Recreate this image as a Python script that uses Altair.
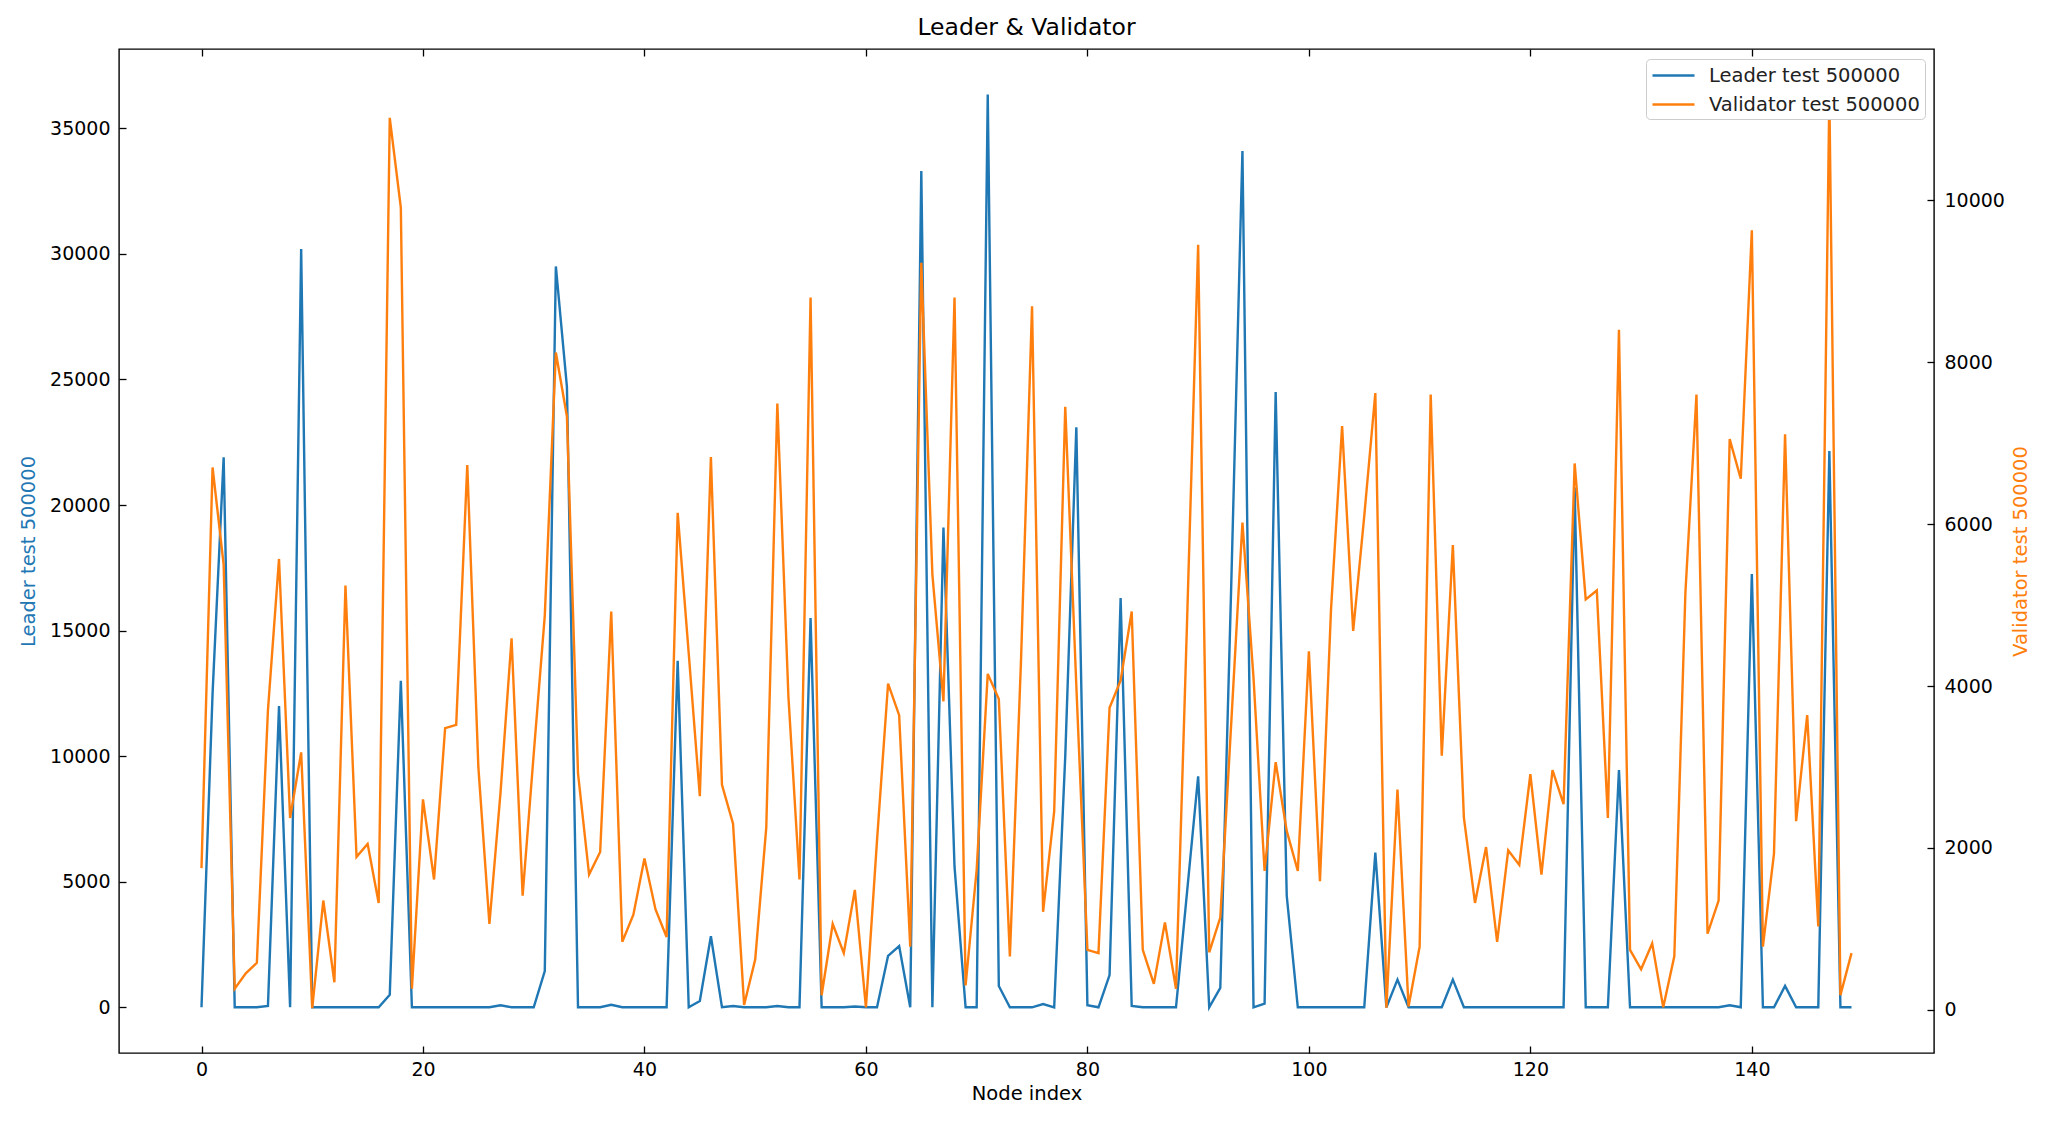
import altair as alt
import pandas as pd

node_index = list(range(150))

leader = [
    0, 12500, 21900, 0, 0, 0, 50, 12000, 0, 30200,
    0, 0, 0, 0, 0, 0, 0, 500, 13000, 0,
    0, 0, 0, 0, 0, 0, 0, 80, 0, 0,
    0, 1440, 29500, 24700, 0, 0, 0, 100, 0, 0,
    0, 0, 0, 13800, 0, 250, 2830, 0, 50, 0,
    0, 0, 50, 0, 0, 15500, 0, 0, 0, 30,
    0, 0, 2050, 2440, 0, 33300, 0, 19100, 5600, 0,
    0, 36350, 850, 0, 0, 0, 130, 0, 10000, 23100,
    80, 0, 1280, 16300, 50, 0, 0, 0, 0, 4600,
    9200, 0, 770, 17000, 34100, 0, 150, 24500, 4440, 0,
    0, 0, 0, 0, 0, 0, 6160, 0, 1100, 0,
    0, 0, 0, 1100, 0, 0, 0, 0, 0, 0,
    0, 0, 0, 0, 20700, 0, 0, 0, 9450, 0,
    0, 0, 0, 0, 0, 0, 0, 0, 80, 0,
    17250, 0, 0, 850, 0, 0, 0, 22150, 0, 0,
]

validator = [
    1750, 6700, 5500, 260, 450, 580, 3700, 5570, 2370, 3180,
    20, 1350, 340, 5240, 1890, 2050, 1320, 11020, 9910, 260,
    2600, 1610, 3480, 3520, 6730, 3000, 1060, 2680, 4590, 1410,
    3160, 4870, 8120, 7330, 2920, 1670, 1950, 4920, 840, 1175,
    1870, 1240, 900, 6140, 4400, 2640, 6830, 2780, 2300, 60,
    620, 2250, 7490, 3870, 1610, 8800, 180, 1060, 700, 1480,
    30, 2090, 4030, 3640, 780, 9230, 5380, 3810, 8800, 300,
    1730, 4150, 3840, 660, 4300, 8690, 1210, 2450, 7450, 4000,
    740, 700, 3730, 4070, 4920, 740, 320, 1080, 260, 4800,
    9450, 710, 1140, 3570, 6020, 4100, 1715, 3060, 2210, 1715,
    4430, 1590, 4950, 7210, 4680, 6100, 7620, 25, 2720, 40,
    780, 7600, 3140, 5740, 2370, 1320, 2010, 840, 1970, 1790,
    2910, 1670, 2960, 2540, 6750, 5070, 5180, 2370, 8400, 740,
    500, 820, 30, 660, 5150, 7600, 940, 1350, 7050, 6560,
    9630, 780, 1930, 7110, 2330, 3640, 1030, 11300, 180, 700,
]

series_names = ["Leader test 500000", "Validator test 500000"]
series_colors = ["#1f77b4", "#ff7f0e"]
x_ticks = [0, 20, 40, 60, 80, 100, 120, 140]
leader_ticks = [0, 5000, 10000, 15000, 20000, 25000, 30000, 35000]
validator_ticks = [0, 2000, 4000, 6000, 8000, 10000]

df_l = pd.DataFrame({"idx": node_index, "val": leader, "series": series_names[0]})
df_v = pd.DataFrame({"idx": node_index, "val": validator, "series": series_names[1]})

W, H = 1815, 1004
xdom = [-7.45, 156.45]
ldom = [-1820, 38160]
vdom = [-534, 11870]
FONT = "DejaVu Sans"
TICK = 7
LBL = 19
TTL = 19.5

def xs():
    return alt.Scale(domain=xdom, nice=False, zero=False)

color = alt.Color(
    "series:N",
    scale=alt.Scale(domain=series_names, range=series_colors),
    legend=alt.Legend(
        title=None, orient="none", legendX=1527, legendY=10,
        fillColor="white", strokeColor="#cccccc", cornerRadius=4, padding=5,
        labelFontSize=TTL, labelFont=FONT, labelColor="#222222", labelLimit=400,
        symbolType="M-1,0H3.2", symbolSize=400, symbolStrokeWidth=2.5,
        rowPadding=8, labelOffset=35,
    ),
)

layer_a = alt.Chart(df_l).mark_line(strokeWidth=2.4).encode(
    x=alt.X("idx:Q", scale=xs(), axis=alt.Axis(
        orient="bottom", values=x_ticks, format="d", ticks=False, domain=False, grid=False,
        labelPadding=7, labelFontSize=LBL, labelFont=FONT, labelColor="black",
        title="Node index", titleFontSize=TTL, titleFont=FONT, titleFontWeight="normal",
        titleColor="black", titlePadding=5.5)),
    y=alt.Y("val:Q", scale=alt.Scale(domain=ldom, nice=False, zero=False), axis=alt.Axis(
        orient="left", values=leader_ticks, format="d", ticks=False, domain=False, grid=False,
        labelPadding=9, labelFontSize=LBL, labelFont=FONT, labelColor="black",
        title="Leader test 500000", titleFontSize=TTL, titleFont=FONT, titleFontWeight="normal",
        titleColor="#1f77b4", titlePadding=11)),
    color=color,
)

layer_b = alt.Chart(df_v).mark_line(strokeWidth=2.4).encode(
    x=alt.X("idx:Q", scale=xs(), axis=alt.Axis(
        orient="top", offset=-H, values=x_ticks, labels=False, domain=False, grid=False,
        ticks=True, tickSize=TICK, tickColor="black", tickWidth=1.3, title=None)),
    y=alt.Y("val:Q", scale=alt.Scale(domain=vdom, nice=False, zero=False), axis=alt.Axis(
        orient="right", values=validator_ticks, format="d", ticks=False, domain=False, grid=False,
        labelPadding=10, labelFontSize=LBL, labelFont=FONT, labelColor="black",
        title="Validator test 500000", titleFontSize=TTL, titleFont=FONT, titleFontWeight="normal",
        titleColor="#ff7f0e", titleAngle=270, titlePadding=26)),
    color=color,
)

layer_c = alt.Chart(df_l).mark_line(opacity=0).encode(
    x=alt.X("idx:Q", scale=xs(), axis=alt.Axis(
        orient="bottom", offset=-H, values=x_ticks, labels=False, domain=False, grid=False,
        ticks=True, tickSize=TICK, tickColor="black", tickWidth=1.3, title=None)),
    y=alt.Y("val:Q", scale=alt.Scale(domain=ldom, nice=False, zero=False), axis=alt.Axis(
        orient="right", offset=-W, values=leader_ticks, labels=False, domain=False, grid=False,
        ticks=True, tickSize=TICK, tickColor="black", tickWidth=1.3, title=None)),
)

layer_d = alt.Chart(df_v).mark_line(opacity=0).encode(
    x=alt.X("idx:Q", scale=xs(), axis=None),
    y=alt.Y("val:Q", scale=alt.Scale(domain=vdom, nice=False, zero=False), axis=alt.Axis(
        orient="left", offset=-W, values=validator_ticks, labels=False, domain=False, grid=False,
        ticks=True, tickSize=TICK, tickColor="black", tickWidth=1.3, title=None)),
)

chart = alt.layer(layer_a, layer_b, layer_c, layer_d).resolve_scale(
    x="independent", y="independent"
).resolve_axis(
    x="independent", y="independent"
).properties(
    width=W, height=H,
    padding={"left": 111, "top": 41, "right": 110, "bottom": 60},
    autosize=alt.AutoSizeParams(type="none"),
    title=alt.TitleParams("Leader & Validator", fontSize=23.5, font=FONT, fontWeight="normal",
                          color="black", anchor="middle", offset=9),
).configure(font=FONT).configure_view(stroke="black", strokeWidth=1.4)

chart.save("out.html", embed_options={"renderer": "svg", "actions": False})
